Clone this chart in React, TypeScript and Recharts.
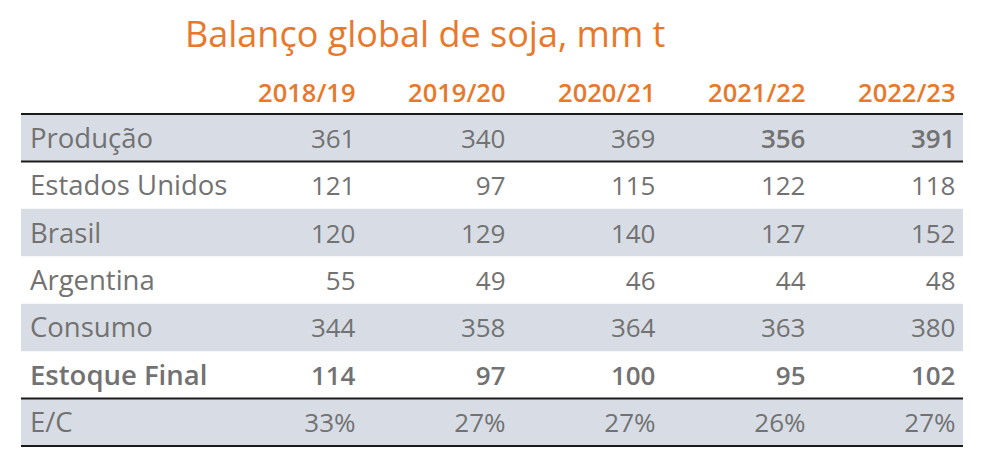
import React from 'react';
import {
  ComposedChart,
  ReferenceArea,
  ReferenceLine,
  Scatter,
  XAxis,
  YAxis,
} from 'recharts';

// Balanço global de soja, mm t
const seasons = ['2018/19', '2019/20', '2020/21', '2021/22', '2022/23'];
const rowLabels = ['Produção', 'Estados Unidos', 'Brasil', 'Argentina', 'Consumo', 'Estoque Final', 'E/C'];

const producao = [361, 340, 369, 356, 391];
const estadosUnidos = [121, 97, 115, 122, 118];
const brasil = [120, 129, 140, 127, 152];
const argentina = [55, 49, 46, 44, 48];
const consumo = [344, 358, 364, 363, 380];
const estoqueFinal = [114, 97, 100, 95, 102];
const estoqueConsumo = [33, 27, 27, 26, 27]; // %

const rowValues = [producao, estadosUnidos, brasil, argentina, consumo, estoqueFinal, estoqueConsumo];

const ORANGE = '#E8792B';
const TEXT = '#727272';
const STRIPE = '#D8DDE5';
const FONT = '"Open Sans", "Noto Sans", sans-serif';

const cells = rowValues.flatMap((vals, row) =>
  vals.map((v, i) => ({
    col: i + 1,
    row,
    text: row === 6 ? `${v}%` : String(v),
    bold: row === 5 || (row === 0 && i >= 3),
  }))
);

const CellText = (props: any) => {
  const { cx, cy, payload } = props;
  return (
    <text
      x={cx}
      y={cy + 10}
      textAnchor='end'
      fontFamily={FONT}
      fontSize={26}
      fontWeight={payload.bold ? 600 : 400}
      fill={TEXT}
    >
      {payload.text}
    </text>
  );
};

const HeaderTick = (props: any) => {
  const { x, payload } = props;
  return (
    <text x={x} y={102} textAnchor='end' fontFamily={FONT} fontSize={25.5} fontWeight={600} fill={ORANGE}>
      {seasons[payload.value - 1]}
    </text>
  );
};

const RowTick = (props: any) => {
  const { y, payload } = props;
  return (
    <text
      x={30}
      y={y + 10}
      textAnchor='start'
      fontFamily={FONT}
      fontSize={27.5}
      fontWeight={payload.value === 5 ? 600 : 400}
      fill={TEXT}
    >
      {rowLabels[payload.value]}
    </text>
  );
};

export default function App() {
  return (
    <div style={{ position: 'absolute', left: 0, top: 0, width: 982, height: 464, background: '#fff' }}>
      <ComposedChart
        width={982}
        height={464}
        layout='vertical'
        margin={{ top: 74, right: 19, bottom: 18, left: 20 }}
      >
        <text x={185} y={47} fontFamily={FONT} fontSize={36} fill={ORANGE}>
          Balanço global de soja, mm t
        </text>
        {rowLabels.map((label, i) =>
          i % 2 === 0 ? (
            <ReferenceArea key={label} y1={i - 0.5} y2={i + 0.5} fill={STRIPE} fillOpacity={1} stroke='none' />
          ) : null
        )}
        <XAxis
          type='number'
          dataKey='col'
          orientation='top'
          height={40}
          domain={[-1.23, 5.05]}
          ticks={[1, 2, 3, 4, 5]}
          allowDataOverflow
          axisLine={false}
          tickLine={false}
          tick={<HeaderTick />}
        />
        <YAxis
          type='number'
          dataKey='row'
          width={1}
          domain={[-0.5, 6.5]}
          ticks={[0, 1, 2, 3, 4, 5, 6]}
          allowDataOverflow
          axisLine={false}
          tickLine={false}
          tick={<RowTick />}
        />
        <ReferenceLine y={-0.5} stroke='#1a1a1a' strokeWidth={2} />
        <ReferenceLine y={0.5} stroke='#1a1a1a' strokeWidth={2} />
        <ReferenceLine y={5.5} stroke='#1a1a1a' strokeWidth={2} />
        <ReferenceLine y={6.5} stroke='#1a1a1a' strokeWidth={2} />
        <Scatter data={cells} shape={<CellText />} isAnimationActive={false} />
      </ComposedChart>
    </div>
  );
}
